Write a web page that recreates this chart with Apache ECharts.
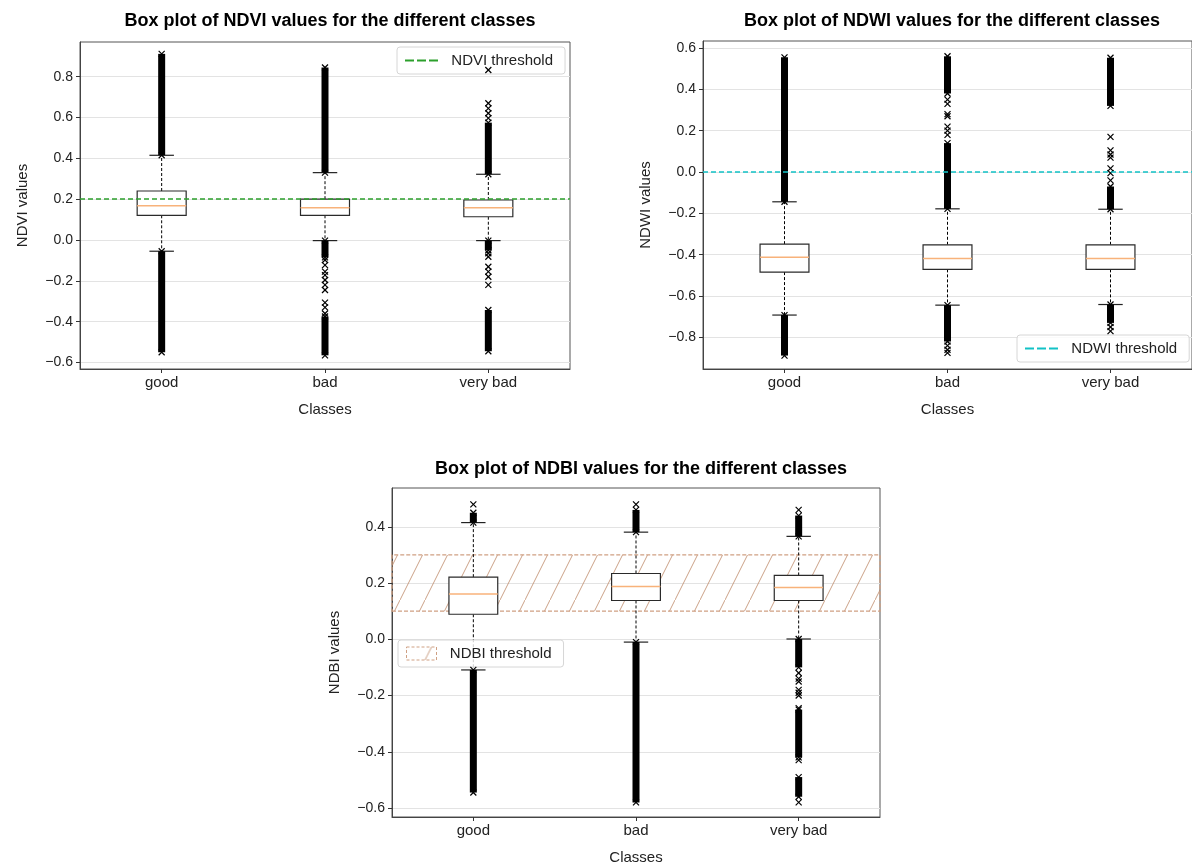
<!DOCTYPE html>
<html><head><meta charset="utf-8">
<script src="https://cdn.jsdelivr.net/npm/echarts@6/dist/echarts.min.js"></script>
<style>html,body{margin:0;padding:0;background:#fff}#c{width:1192px;height:868px}</style>
</head><body><div id="c"></div>
<script>
const categories = ['good', 'bad', 'very bad'];

// [lower whisker, Q1, median, Q3, upper whisker]
const ndviStats = [
  [-0.055, 0.121, 0.168, 0.240, 0.415],
  [-0.003, 0.121, 0.158, 0.200, 0.330],
  [-0.003, 0.114, 0.158, 0.196, 0.322]
];
// dense outlier runs: [class index, from, to]
const ndviClusters = [
  [0, 0.415, 0.912], [0, -0.55, -0.055],
  [1, 0.33, 0.845], [1, -0.085, -0.003], [1, -0.565, -0.375],
  [2, 0.322, 0.575], [2, -0.05, -0.003], [2, -0.545, -0.343]
];
// single outliers: [class index, value]
const ndviOutliers = [
  [1, -0.098], [1, -0.123], [1, -0.155], [1, -0.172], [1, -0.196], [1, -0.22], [1, -0.245], [1, -0.307], [1, -0.33], [1, -0.36],
  [2, 0.597], [2, 0.621], [2, 0.645], [2, 0.67], [2, 0.833], [2, -0.065], [2, -0.082], [2, -0.131], [2, -0.155], [2, -0.18], [2, -0.22]
];
const ndviThreshold = 0.2;
const ndviTicks = [-0.6, -0.4, -0.2, 0.0, 0.2, 0.4, 0.6, 0.8];

const ndwiStats = [
  [-0.692, -0.484, -0.412, -0.349, -0.144],
  [-0.644, -0.471, -0.418, -0.352, -0.178],
  [-0.641, -0.471, -0.418, -0.352, -0.180]
];
const ndwiClusters = [
  [0, -0.144, 0.555], [0, -0.888, -0.692],
  [1, -0.178, 0.14], [1, 0.38, 0.56], [1, -0.82, -0.644],
  [2, -0.18, -0.07], [2, 0.32, 0.553], [2, -0.73, -0.641]
];
const ndwiOutliers = [
  [1, 0.18], [1, 0.2], [1, 0.22], [1, 0.27], [1, 0.28], [1, 0.33], [1, 0.35], [1, -0.84], [1, -0.86], [1, -0.875],
  [2, -0.04], [2, -0.005], [2, 0.018], [2, 0.07], [2, 0.085], [2, 0.105], [2, 0.17], [2, -0.75], [2, -0.77]
];
const ndwiThreshold = 0.0;
const ndwiTicks = [-0.8, -0.6, -0.4, -0.2, 0.0, 0.2, 0.4, 0.6];

const ndbiStats = [
  [-0.109, 0.089, 0.161, 0.221, 0.415],
  [-0.010, 0.138, 0.1875, 0.234, 0.381],
  [0.001, 0.138, 0.184, 0.227, 0.366]
];
const ndbiClusters = [
  [0, 0.415, 0.45], [0, -0.545, -0.109],
  [1, 0.381, 0.46], [1, -0.58, -0.01],
  [2, 0.366, 0.44], [2, -0.1, 0.001], [2, -0.42, -0.25], [2, -0.56, -0.49]
];
const ndbiOutliers = [
  [0, 0.48], [1, 0.48],
  [2, 0.46], [2, -0.12], [2, -0.14], [2, -0.15], [2, -0.18], [2, -0.19], [2, -0.2], [2, -0.245], [2, -0.43], [2, -0.58]
];
const ndbiThreshold = [0.1, 0.3];
const ndbiTicks = [-0.6, -0.4, -0.2, 0.0, 0.2, 0.4];

const FONT = '"Liberation Sans", Arial, sans-serif';

function xGlyph(x, y) {
  const s = 3;
  return [
    {type: 'line', shape: {x1: x - s, y1: y - s, x2: x + s, y2: y + s}, style: {stroke: '#000', lineWidth: 1.2}},
    {type: 'line', shape: {x1: x - s, y1: y + s, x2: x + s, y2: y - s}, style: {stroke: '#000', lineWidth: 1.2}}
  ];
}
function boxRender(params, api) {
  const c = api.value(0);
  const lo = api.coord([c, api.value(1)])[1];
  const q1 = api.coord([c, api.value(2)])[1];
  const md = api.coord([c, api.value(3)]);
  const q3 = api.coord([c, api.value(4)])[1];
  const hi = api.coord([c, api.value(5)])[1];
  const x = md[0];
  const bw = api.size([1, 0])[0] * 0.3;
  const cw = bw / 2;
  const dash = {stroke: '#000', lineWidth: 1, lineDash: [3, 2]};
  return {type: 'group', children: [
    {type: 'line', shape: {x1: x, y1: q3, x2: x, y2: hi}, style: dash},
    {type: 'line', shape: {x1: x, y1: q1, x2: x, y2: lo}, style: dash},
    {type: 'line', shape: {x1: x - cw / 2, y1: hi, x2: x + cw / 2, y2: hi}, style: {stroke: '#222', lineWidth: 1.2}},
    {type: 'line', shape: {x1: x - cw / 2, y1: lo, x2: x + cw / 2, y2: lo}, style: {stroke: '#222', lineWidth: 1.2}},
    {type: 'rect', shape: {x: x - bw / 2, y: q3, width: bw, height: q1 - q3}, style: {fill: '#fff', stroke: '#2a2a2a', lineWidth: 1.2}},
    {type: 'line', shape: {x1: x - bw / 2, y1: md[1], x2: x + bw / 2, y2: md[1]}, style: {stroke: '#f8b27a', lineWidth: 1.6}}
  ]};
}
function clusterRender(params, api) {
  const c = api.value(0);
  const a = api.coord([c, api.value(1)]);
  const b = api.coord([c, api.value(2)]);
  const x = a[0];
  const top = Math.min(a[1], b[1]), bot = Math.max(a[1], b[1]);
  return {type: 'group', children: [
    {type: 'rect', shape: {x: x - 3.5, y: top, width: 7, height: bot - top}, style: {fill: '#000'}}
  ].concat(xGlyph(x, top), xGlyph(x, bot))};
}
function outlierRender(params, api) {
  const p = api.coord([api.value(0), api.value(1)]);
  return {type: 'group', children: xGlyph(p[0], p[1])};
}

function hatchPattern() {
  const cv = document.createElement('canvas');
  cv.width = 25; cv.height = 50;
  const ctx = cv.getContext('2d');
  ctx.strokeStyle = 'rgba(185,130,95,0.75)';
  ctx.lineWidth = 1;
  ctx.beginPath();
  ctx.moveTo(0, 50); ctx.lineTo(25, 0);
  ctx.stroke();
  return {image: cv, repeat: 'repeat'};
}

const grids = [
  {left: 80, top: 42, width: 490, height: 327},
  {left: 703, top: 41, width: 489, height: 328},
  {left: 392, top: 488, width: 488, height: 329}
];
const yRanges = [[-0.632, 0.97], [-0.953, 0.634], [-0.632, 0.538]];
const yTicks = [ndviTicks, ndwiTicks, ndbiTicks];
const yNames = ['NDVI values', 'NDWI values', 'NDBI values'];

const fmt = v => (Math.abs(v) < 1e-9 ? 0 : v).toFixed(1).replace('-', '\u2212');

const xAxes = grids.map((g, i) => ({
  type: 'category', gridIndex: i, data: categories,
  name: 'Classes', nameLocation: 'middle', nameGap: 33,
  nameTextStyle: {fontSize: 15, color: '#222', fontFamily: FONT},
  axisLine: {show: true, onZero: false, lineStyle: {color: '#444', width: 1}},
  axisTick: {show: true, alignWithLabel: true, length: 4, lineStyle: {color: '#333'}},
  axisLabel: {fontSize: 15, color: '#222', margin: 6, fontFamily: FONT},
  splitLine: {show: false}
}));
const yAxes = grids.map((g, i) => ({
  type: 'value', gridIndex: i, min: yRanges[i][0], max: yRanges[i][1],
  name: yNames[i], nameLocation: 'middle', nameGap: 50,
  nameTextStyle: {fontSize: 15, color: '#222', fontFamily: FONT},
  axisLine: {show: true, onZero: false, lineStyle: {color: '#444', width: 1}},
  axisTick: {show: true, length: 4, lineStyle: {color: '#333'}, customValues: yTicks[i]},
  axisLabel: {fontSize: 14, color: '#222', margin: 7, fontFamily: FONT, formatter: fmt, customValues: yTicks[i]},
  splitLine: {show: true, lineStyle: {color: '#e3e3e3', width: 1}}
}));

const panels = [
  [ndviStats, ndviClusters, ndviOutliers],
  [ndwiStats, ndwiClusters, ndwiOutliers],
  [ndbiStats, ndbiClusters, ndbiOutliers]
];
const series = [];
panels.forEach((p, i) => {
  series.push({
    type: 'custom', xAxisIndex: i, yAxisIndex: i, z: 3,
    renderItem: boxRender, encode: {x: 0, y: [1, 2, 3, 4, 5]},
    data: p[0].map((s, k) => [k].concat(s)), silent: true
  });
  series.push({
    type: 'custom', xAxisIndex: i, yAxisIndex: i, z: 4,
    renderItem: clusterRender, encode: {x: 0, y: [1, 2]},
    data: p[1], silent: true
  });
  series.push({
    type: 'custom', xAxisIndex: i, yAxisIndex: i, z: 4,
    renderItem: outlierRender, encode: {x: 0, y: 1},
    data: p[2], silent: true
  });
});
series.push({
  name: 'NDVI threshold', type: 'line', xAxisIndex: 0, yAxisIndex: 0, z: 1, data: [],
  itemStyle: {color: '#2ca02c'}, lineStyle: {color: '#2ca02c', type: 'dashed'},
  markLine: {silent: true, symbol: ['none', 'none'], label: {show: false},
    lineStyle: {color: '#2ca02c', width: 1.5, type: [5, 3]}, data: [{yAxis: ndviThreshold}]}
});
series.push({
  name: 'NDWI threshold', type: 'line', xAxisIndex: 1, yAxisIndex: 1, z: 1, data: [],
  itemStyle: {color: '#12c2c6'}, lineStyle: {color: '#12c2c6', type: 'dashed'},
  markLine: {silent: true, symbol: ['none', 'none'], label: {show: false},
    lineStyle: {color: '#12c2c6', width: 1.5, type: [5, 3]}, data: [{yAxis: ndwiThreshold}]}
});
const hatch = hatchPattern();
series.push({
  name: 'NDBI threshold', type: 'line', xAxisIndex: 2, yAxisIndex: 2, z: 1, data: [],
  itemStyle: {color: '#d2aa8c'},
  markArea: {silent: true, label: {show: false},
    itemStyle: {color: hatch, borderColor: '#cfa083', borderWidth: 1.3, borderType: [4, 2]},
    data: [[{yAxis: ndbiThreshold[0]}, {yAxis: ndbiThreshold[1]}]]}
});

const dashIcon = 'path://M0,0h9v2h-9zM12,0h9v2h-9zM24,0h9v2h-9z';
const legendBase = {
  orient: 'horizontal', selectedMode: false, padding: [6, 12, 6, 8],
  backgroundColor: 'rgba(255,255,255,0.8)', borderColor: '#d6d6d6', borderWidth: 1, borderRadius: 3,
  textStyle: {fontSize: 15, color: '#222', fontFamily: FONT},
  formatter: '  {name}'
};

const titleStyle = {fontSize: 18, fontWeight: 'bold', color: '#000', fontFamily: FONT};
const option = {
  animation: false,
  backgroundColor: '#fff',
  textStyle: {fontFamily: FONT},
  title: [
    {text: 'Box plot of NDVI values for the different classes', left: 325, top: 7, textAlign: 'center', textStyle: titleStyle},
    {text: 'Box plot of NDWI values for the different classes', left: 947, top: 7, textAlign: 'center', textStyle: titleStyle},
    {text: 'Box plot of NDBI values for the different classes', left: 636, top: 455, textAlign: 'center', textStyle: titleStyle}
  ],
  legend: [
    Object.assign({}, legendBase, {data: ['NDVI threshold'], left: 397, top: 47, icon: dashIcon, itemWidth: 33, itemHeight: 2}),
    Object.assign({}, legendBase, {data: ['NDWI threshold'], left: 1017, top: 335, icon: dashIcon, itemWidth: 33, itemHeight: 2}),
    Object.assign({}, legendBase, {data: ['NDBI threshold'], left: 398, top: 640, icon: 'rect', itemWidth: 30, itemHeight: 13,
      itemStyle: {color: hatch, borderColor: '#cfa083', borderWidth: 1, borderType: [3, 2]}})
  ],
  grid: grids.map(g => Object.assign({show: true, borderColor: '#555', borderWidth: 1, backgroundColor: 'transparent'}, g)),
  xAxis: xAxes,
  yAxis: yAxes,
  series: series
};
const chart = echarts.init(document.getElementById('c'), null, {renderer: 'canvas'});
chart.setOption(option);
</script>
</body></html>
